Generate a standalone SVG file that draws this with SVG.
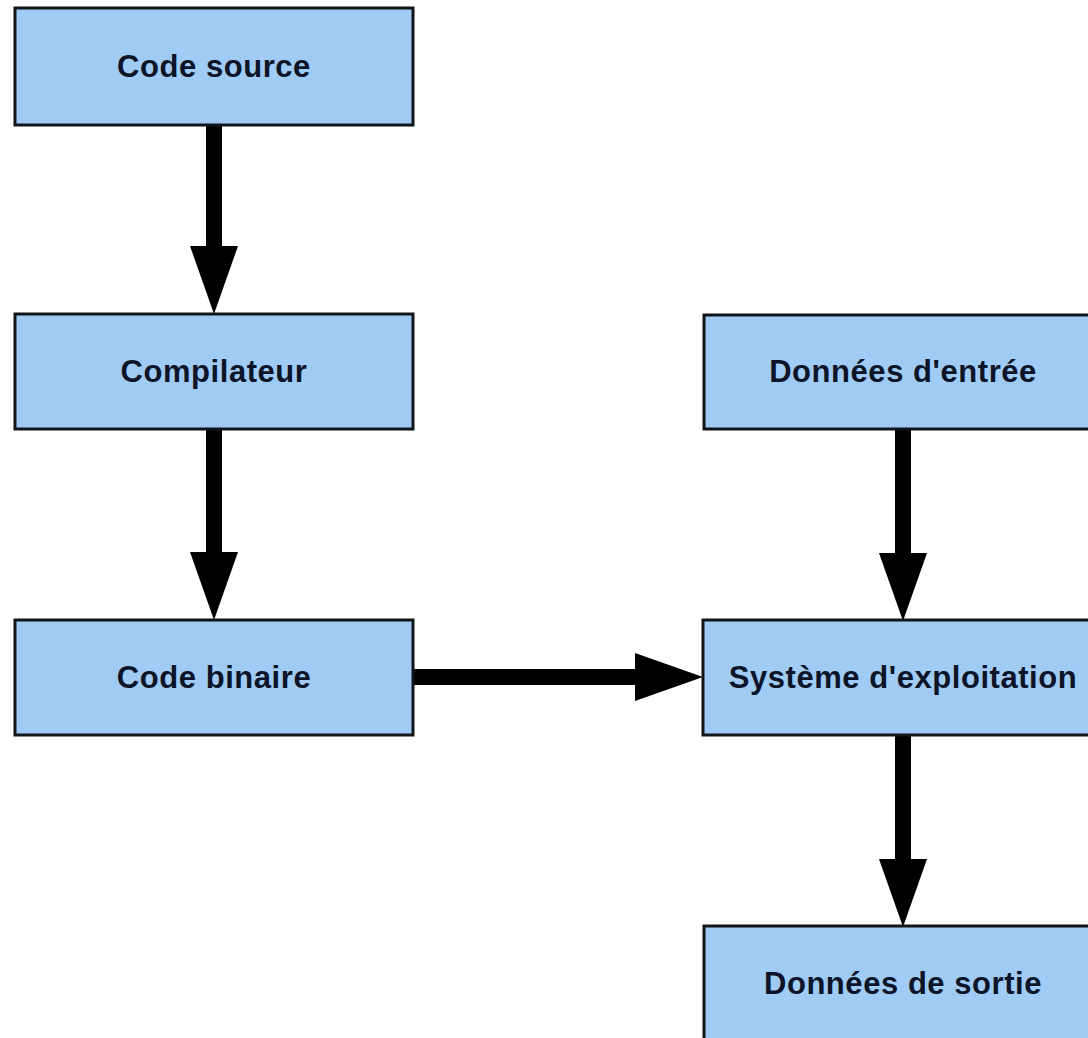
<svg xmlns="http://www.w3.org/2000/svg" width="1088" height="1038" viewBox="0 0 1088 1038">
  <defs>
    <style>
      .box rect { fill: #a0cbf5; stroke: #111418; stroke-width: 3; }
      .box text { font-family: "Liberation Sans", Arial, sans-serif; font-weight: bold; font-size: 31px; letter-spacing: 0.55px; fill: #0c1428; text-anchor: middle; }
      .link { stroke: #000; stroke-width: 16; fill: none; marker-end: url(#head); }
    </style>
    <!-- arrowhead: line ends at the head base, the tip lies 68px further on -->
    <marker id="head" markerUnits="userSpaceOnUse" markerWidth="68" markerHeight="48" refX="0" refY="24" orient="auto" overflow="visible">
      <path d="M0,0 L68,24 L0,48 Z" fill="#000"/>
    </marker>
  </defs>

  <rect width="1088" height="1038" fill="#ffffff"/>

  <g id="connectors">
    <line class="link" x1="214" y1="126" x2="214" y2="246"/>
    <line class="link" x1="214" y1="430" x2="214" y2="552"/>
    <line class="link" x1="414" y1="677" x2="635" y2="677"/>
    <line class="link" x1="903" y1="430" x2="903" y2="553"/>
    <line class="link" x1="903" y1="736" x2="903" y2="859"/>
  </g>

  <g id="code-source" class="box">
    <rect x="15" y="8" width="398" height="117"/>
    <text x="214" y="77">Code source</text>
  </g>
  <g id="compilateur" class="box">
    <rect x="15" y="314" width="398" height="115"/>
    <text x="214" y="382">Compilateur</text>
  </g>
  <g id="code-binaire" class="box">
    <rect x="15" y="620" width="398" height="115"/>
    <text x="214" y="688">Code binaire</text>
  </g>
  <g id="donnees-entree" class="box">
    <rect x="704" y="315" width="398" height="114"/>
    <text x="903" y="382">Données d'entrée</text>
  </g>
  <g id="systeme-exploitation" class="box">
    <rect x="703" y="620" width="398" height="115"/>
    <text x="903" y="688">Système d'exploitation</text>
  </g>
  <g id="donnees-sortie" class="box">
    <rect x="704" y="926" width="398" height="130"/>
    <text x="903" y="994">Données de sortie</text>
  </g>
</svg>
